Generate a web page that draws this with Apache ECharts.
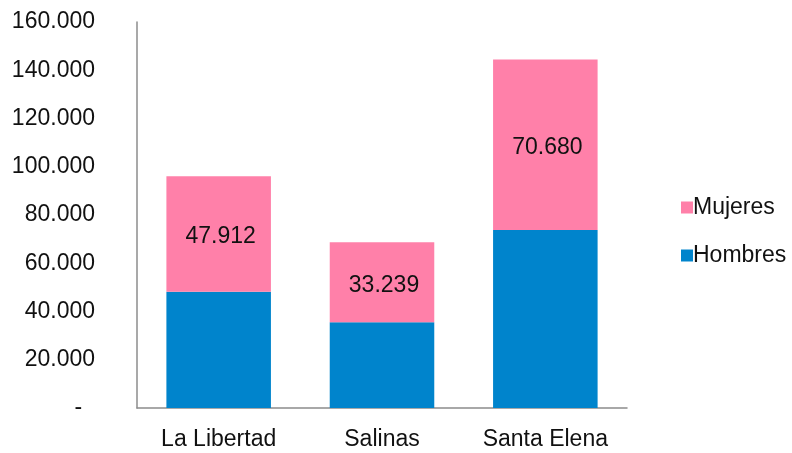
<!DOCTYPE html>
<html>
<head>
<meta charset="utf-8">
<script src="https://cdn.jsdelivr.net/npm/echarts@6/dist/echarts.min.js"></script>
<style>
  html, body { margin: 0; padding: 0; background: #fff; }
  #chart { width: 792px; height: 453px; }
</style>
</head>
<body>
<div id="chart"></div>
<script>
const categories = ['La Libertad', 'Salinas', 'Santa Elena'];
const hombres = [48200, 35500, 73800];
const mujeres = [47912, 33239, 70680];

// numero con punto de miles, el cero se muestra como guion
function fmt(v) {
  if (v === 0) return '-  ';
  return String(Math.round(v)).replace(/\B(?=(\d{3})+(?!\d))/g, '.');
}

const chart = echarts.init(document.getElementById('chart'));

const option = {
  animation: false,
  textStyle: { fontFamily: 'Liberation Sans, Arial, sans-serif' },
  legend: {
    orient: 'vertical',
    left: 676,
    top: 191,
    itemWidth: 12,
    itemHeight: 12,
    itemGap: 25,
    icon: 'rect',
    data: ['Mujeres', 'Hombres'],
    textStyle: { fontSize: 23, color: '#111', padding: [0, 0, 0, -5] },
  },
  grid: {
    left: 137,
    right: 165,
    top: 22,
    bottom: 45,
  },
  xAxis: {
    type: 'category',
    data: categories,
    axisLine: { show: true, lineStyle: { color: '#8c8c8c', width: 1.5 } },
    axisTick: { show: false },
    axisLabel: { fontSize: 23, color: '#111', margin: 20 },
  },
  yAxis: {
    type: 'value',
    min: 0,
    max: 160000,
    interval: 20000,
    axisLine: { show: true, lineStyle: { color: '#8c8c8c', width: 1.5 } },
    axisTick: { show: false },
    splitLine: { show: false },
    axisLabel: {
      fontSize: 23,
      color: '#111',
      margin: 42,
      padding: [3, 0, 0, 0],
      formatter: fmt,
    },
  },
  series: [
    {
      name: 'Hombres',
      type: 'bar',
      stack: 'total',
      data: hombres,
      barWidth: '64%',
      itemStyle: { color: '#0084CC' },
    },
    {
      name: 'Mujeres',
      type: 'bar',
      stack: 'total',
      data: mujeres,
      barWidth: '64%',
      itemStyle: { color: '#FF80A9' },
      label: {
        show: true,
        position: 'inside',
        offset: [2, 3],
        fontSize: 23,
        color: '#111',
        formatter: (p) => fmt(p.value),
      },
    },
  ],
};

chart.setOption(option);
</script>
</body>
</html>
